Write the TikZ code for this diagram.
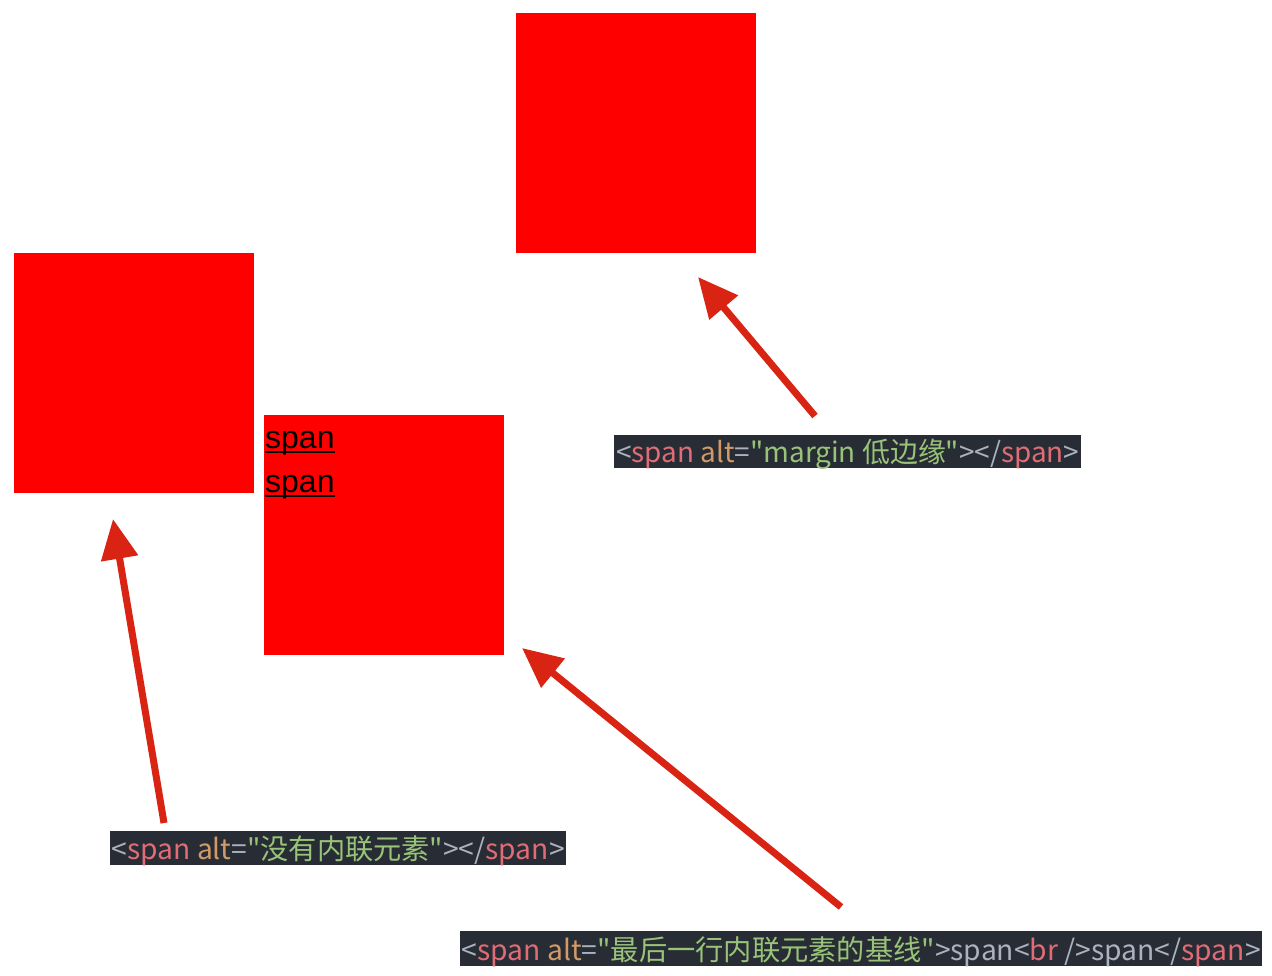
\documentclass[tikz,border=0pt]{standalone}
\usepackage{fontspec}
\setmainfont{Liberation Sans}
\newfontfamily\cjk{Noto Sans CJK SC}
\usetikzlibrary{arrows.meta}
\definecolor{boxred}{HTML}{FF0000}
\definecolor{arrred}{HTML}{D92413}
\definecolor{codebg}{HTML}{282C34}
\definecolor{ctag}{HTML}{E06C75}
\definecolor{cattr}{HTML}{D19A66}
\definecolor{cstr}{HTML}{98C379}
\definecolor{cpun}{HTML}{ABB2BF}
\newcommand{\Pu}[1]{\textcolor{cpun}{#1}}
\newcommand{\Tg}[1]{\textcolor{ctag}{#1}}
\newcommand{\At}[1]{\textcolor{cattr}{#1}}
\newcommand{\St}[1]{\textcolor{cstr}{#1}}
\tikzset{
  redbox/.style={fill=boxred, draw=none, minimum width=240pt, minimum height=240pt, inner sep=0pt},
  codelbl/.style={fill=codebg, inner sep=0pt, anchor=north west},
  codetxt/.style={inner sep=0pt, font=\cjk\fontsize{28}{32}\selectfont},
  redarrow/.style={draw=arrred, line width=7pt, -{Triangle[length=40pt,width=36pt]}},
  spantxt/.style={font=\fontsize{32}{36}\selectfont, inner sep=0pt, anchor=base west}
}
\begin{document}
\begin{tikzpicture}[x=1pt,y=-1pt]
\useasboundingbox (0,0) rectangle (1272,976);
\node[redbox] (A) at (636,133) {};
\node[redbox] (B) at (134,373) {};
\node[redbox] (C) at (384,535) {};
\node[spantxt] (s1) at (265,448) {span};
\node[spantxt] (s2) at (265,492) {span};
\draw[line width=1.5pt] ([yshift=-4pt]s1.base west) -- ([yshift=-4pt]s1.base east);
\draw[line width=1.5pt] ([yshift=-4pt]s2.base west) -- ([yshift=-4pt]s2.base east);
\node[codelbl, minimum width=467pt, minimum height=33pt] (L1) at (614,435) {};
\node[codetxt] (T1) at ([yshift=-3pt]L1.center)
  {\resizebox{463pt}{!}{\Pu{<}\Tg{span} \At{alt}\Pu{=}\St{"margin 低边缘"}\Pu{></}\Tg{span}\Pu{>}}};
\node[codelbl, minimum width=456pt, minimum height=34pt] (L2) at (110,831) {};
\node[codetxt] (T2) at ([yshift=-3pt]L2.center)
  {\resizebox{453pt}{!}{\Pu{<}\Tg{span} \At{alt}\Pu{=}\St{"没有内联元素"}\Pu{></}\Tg{span}\Pu{>}}};
\node[codelbl, minimum width=802pt, minimum height=35pt] (L3) at (460,931) {};
\node[codetxt] (T3) at ([yshift=-3pt]L3.center)
  {\resizebox{799pt}{!}{\Pu{<}\Tg{span} \At{alt}\Pu{=}\St{"最后一行内联元素的基线"}\Pu{>span<}\Tg{br} \Pu{/>span</}\Tg{span}\Pu{>}}};
\coordinate (a1s) at (815,416);
\coordinate (a1e) at (698,277);
\coordinate (a2s) at (164,823);
\coordinate (a2e) at (113,519);
\coordinate (a3s) at (841,907);
\coordinate (a3e) at (522,648);
\draw[redarrow] (a1s) -- (a1e);
\draw[redarrow] (a2s) -- (a2e);
\draw[redarrow] (a3s) -- (a3e);
\end{tikzpicture}
\end{document}
